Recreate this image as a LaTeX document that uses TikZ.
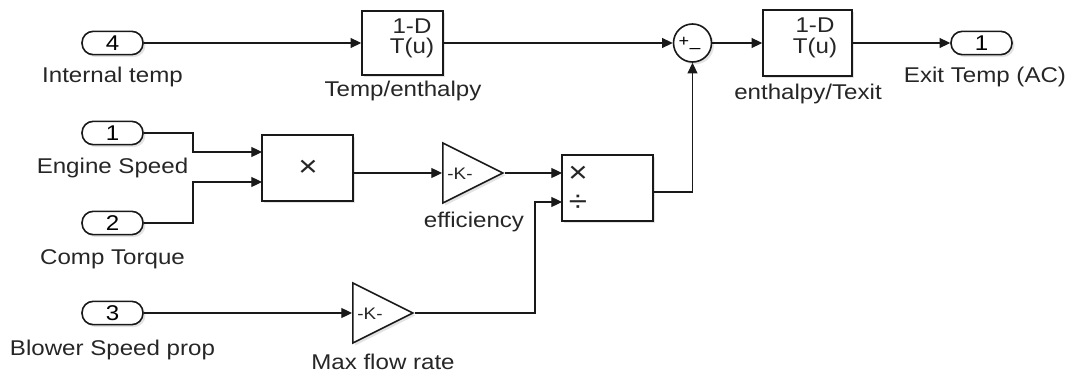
\documentclass[tikz,border=0pt]{standalone}
\usepackage{fontspec}
\setmainfont{Liberation Sans}[FakeStretch=1.13]
\usetikzlibrary{arrows.meta,shapes.geometric,shadows,calc}
\begin{document}
\begin{tikzpicture}[x=0.75pt,y=-0.75pt,
  wire/.style={line width=0.9pt,draw=black!90,-{Triangle[length=8pt,width=7.5pt]}},
  blk/.style={draw=black!90,line width=1.2pt,fill=white,inner sep=0pt,
    drop shadow={opacity=0.22,shadow xshift=1.8pt,shadow yshift=-1.8pt}},
  port/.style={blk,rounded corners=8.5pt,minimum width=45.75pt,minimum height=17.5pt,
    font=\fontsize{16pt}{18pt}\selectfont},
  lbl/.style={font=\fontsize{16pt}{18pt}\selectfont,anchor=base,inner sep=0pt,text=black!85},
  btxt/.style={font=\fontsize{16pt}{18pt}\selectfont,anchor=base,inner sep=0pt,text=black!85},
  gain/.style={blk,shape=isosceles triangle,isosceles triangle stretches,
    minimum width=45pt,minimum height=45pt,anchor=west},
  ktxt/.style={font=\fontsize{12.5pt}{14pt}\selectfont,inner sep=0pt,text=black!85},
  optxt/.style={font=\fontsize{22pt}{24pt}\selectfont,inner sep=0pt,text=black!85},
]
\useasboundingbox (0,0) rectangle (1070,374);

% inports / outport
\node[port] (in4) at (112.5,43) {4};
\node[port] (in1) at (112.5,133) {1};
\node[port] (in2) at (112.5,223) {2};
\node[port] (in3) at (112.5,313) {3};
\node[port] (out1) at (981.5,43) {1};

\node[lbl] (l4) at (112.5,83) {Internal temp};
\node[lbl] (l1) at (112.5,174) {Engine Speed};
\node[lbl] (l2) at (112.5,264) {Comp Torque};
\node[lbl] (l3) at (112.5,355) {Blower Speed prop};
\node[lbl] (lo) at (985,83) {Exit Temp (AC)};

% lookup tables
\node[blk,minimum width=60.75pt,minimum height=48pt] (te) at (402.5,43) {};
\node[btxt] (teA) at (412,34) {1-D};
\node[btxt] (teB) at (412,54) {T(u)};
\node[lbl] (lte) at (403,97) {Temp/enthalpy};

\node[blk,minimum width=66.75pt,minimum height=49.5pt] (et) at (807.5,43) {};
\node[btxt] (etA) at (815,33) {1-D};
\node[btxt] (etB) at (815,54) {T(u)};
\node[lbl] (let) at (808,100) {enthalpy/Texit};

% sum
\node[blk,circle,minimum size=28.5pt] (sum) at (692.5,43) {};
\node[font=\fontsize{12pt}{12pt}\selectfont,inner sep=0pt] (sp) at (684,42) {+};
\node[font=\fontsize{13pt}{13pt}\selectfont,inner sep=0pt] (sm) at (695,51) {–};

% product blocks
\node[blk,minimum width=68.25pt,minimum height=49.5pt] (prod) at (307.5,168) {};
\node[optxt] (prodx) at (308,168) {×};
\node[blk,minimum width=68.25pt,minimum height=49.5pt] (div) at (607.5,188) {};
\node[optxt] (divx) at (578,174) {×};
\node[optxt] (divd) at (578,203) {÷};

% gains
\node[gain] (geff) at (442,173) {};
\node[ktxt] (geffK) at (460,174) {-K-};
\node[lbl] (leff) at (474,227) {efficiency};
\node[gain] (gmf) at (352,313) {};
\node[ktxt] (gmfK) at (370,314) {-K-};
\node[lbl] (lmf) at (383,369) {Max flow rate};

% port coordinates
\coordinate (prodA) at (262,152);
\coordinate (prodB) at (262,182);
\coordinate (prodO) at (353,173);
\coordinate (divA) at (562,173);
\coordinate (divB) at (562,202);
\coordinate (divO) at (653,192);
\coordinate (jx) at (193,0);
\coordinate (jy) at (535,0);

% wires
\draw[wire] (in4.east) -- (te.west);
\draw[wire] (te.east) -- (sum.west);
\draw[wire] (sum.east) -- (et.west);
\draw[wire] (et.east) -- (out1.west);
\draw[wire] (in1.east) -- (in1.east -| jx) -- (prodA -| jx) -- (prodA);
\draw[wire] (in2.east) -- (in2.east -| jx) -- (prodB -| jx) -- (prodB);
\draw[wire] (prodO) -- (geff.west);
\draw[wire] (geff.apex) -- (divA);
\draw[wire] (in3.east) -- (gmf.west);
\draw[wire] (gmf.apex) -- (gmf.apex -| jy) -- (divB -| jy) -- (divB);
\draw[wire] (divO) -- (divO -| sum.south) -- (sum.south);
\end{tikzpicture}
\end{document}
